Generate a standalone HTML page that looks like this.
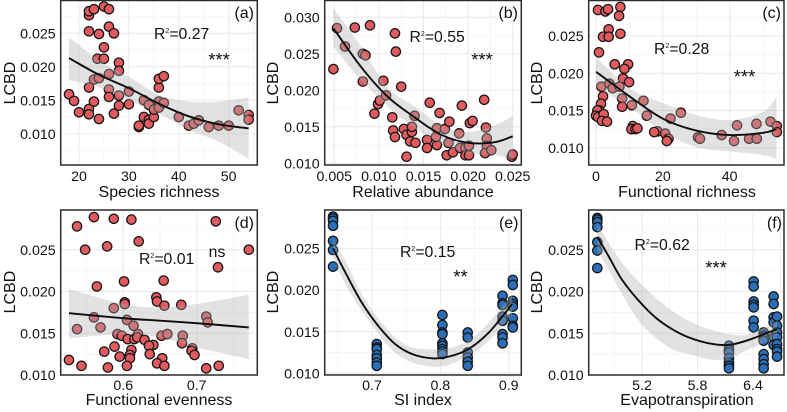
<!DOCTYPE html>
<html lang="en">
<head>
<meta charset="utf-8">
<title>LCBD scatter panels</title>
<style>
html,body{margin:0;padding:0;background:#fff;}
svg{display:block;font-family:"Liberation Sans",Arial,sans-serif;}
.tick{font-size:14.2px;fill:#111;}
.title{font-size:16px;fill:#111;}
.note{font-size:15.8px;fill:#111;}
.tag{font-size:16px;fill:#111;text-anchor:end;}
.star{font-size:18.5px;fill:#111;text-anchor:middle;}
</style>
</head>
<body>
<svg id="figure" xmlns="http://www.w3.org/2000/svg" width="787" height="412" viewBox="0 0 787 412">
  <rect x="0" y="0" width="787" height="412" fill="#fff"/>
  <g id="marks"></g>
  <g>
    <text class="title" x="159" y="197" text-anchor="middle">Species richness</text>
    <text class="title" transform="translate(15,83) rotate(-90)" text-anchor="middle">LCBD</text>
    <text class="note" x="154" y="39">R<tspan font-size="7" dy="-6">2</tspan><tspan dy="6">=0.27</tspan></text>
    <text class="star" x="219" y="66">***</text>
    <text class="tag" x="254" y="18">(a)</text>
  </g>
  <g>
    <text class="title" x="423" y="197" text-anchor="middle">Relative abundance</text>
    <text class="title" transform="translate(278,83) rotate(-90)" text-anchor="middle">LCBD</text>
    <text class="note" x="409.5" y="42">R<tspan font-size="7" dy="-6">2</tspan><tspan dy="6">=0.55</tspan></text>
    <text class="star" x="482" y="66">***</text>
    <text class="tag" x="518" y="18">(b)</text>
  </g>
  <g>
    <text class="title" x="687" y="197" text-anchor="middle">Functional richness</text>
    <text class="title" transform="translate(542,83) rotate(-90)" text-anchor="middle">LCBD</text>
    <text class="note" x="654" y="54">R<tspan font-size="7" dy="-6">2</tspan><tspan dy="6">=0.28</tspan></text>
    <text class="star" x="744.5" y="83">***</text>
    <text class="tag" x="781" y="18">(c)</text>
  </g>
  <g>
    <text class="title" x="159" y="405" text-anchor="middle">Functional evenness</text>
    <text class="title" transform="translate(15,292) rotate(-90)" text-anchor="middle">LCBD</text>
    <text class="note" x="139" y="264">R<tspan font-size="7" dy="-6">2</tspan><tspan dy="6">=0.01</tspan></text>
    <text x="217" y="257" text-anchor="middle" font-size="15.8" fill="#111">ns</text>
    <text class="tag" x="254" y="228">(d)</text>
  </g>
  <g>
    <text class="title" x="423" y="405" text-anchor="middle">SI index</text>
    <text class="title" transform="translate(278,292) rotate(-90)" text-anchor="middle">LCBD</text>
    <text class="note" x="400" y="257">R<tspan font-size="7" dy="-6">2</tspan><tspan dy="6">=0.15</tspan></text>
    <text class="star" x="460.5" y="283">**</text>
    <text class="tag" x="518.5" y="228">(e)</text>
  </g>
  <g>
    <text class="title" x="687" y="405" text-anchor="middle">Evapotranspiration</text>
    <text class="title" transform="translate(542,292) rotate(-90)" text-anchor="middle">LCBD</text>
    <text class="note" x="634.5" y="250">R<tspan font-size="7" dy="-6">2</tspan><tspan dy="6">=0.62</tspan></text>
    <text class="star" x="716" y="274">***</text>
    <text class="tag" x="782" y="228">(f)</text>
  </g>
</svg>
<script>
// ---------- Panel (a) ----------
var aX = [18,19,20,22,22,23,24,22,23,24,23.7,25,25,22,24,26,27,22,22,23,25,26,26,26,26,27,28,28,28,28,30,30,32,32,33,33,34,34,34,35,35,36,36,36,36,37,37,40,42,43,44,46,48,50,52,54,54];
var aY = [.0159,.0149,.0132,.0137,.0129,.0148,.0122,.0169,.0181,.0183,.0212,.0212,.0229,.0253,.0249,.0260,.0250,.0277,.0283,.0286,.0290,.0286,.0189,.0166,.0155,.0130,.0206,.0194,.0157,.0142,.0163,.0144,.0110,.0112,.0125,.0150,.0121,.0115,.0143,.0125,.0136,.0148,.0139,.0169,.0182,.0186,.0146,.0125,.0112,.0115,.0120,.0110,.0112,.0112,.0135,.0128,.0121];
var aFitX = [18,24,30,36,42,48,54];
var aFitY = [.0213,.0188,.0168,.0145,.0126,.0114,.0108];
var aUpper = [.0244,.0210,.0185,.0158,.0148,.0148,.0154];
var aLower = [.0180,.0169,.0150,.0130,.0106,.0088,.0063];
var aTicksX = [20,30,40,50];
var aTickLabelsX = ["20","30","40","50"];
var aTicksY = [.010,.015,.020,.025];
var aTickLabelsY = ["0.010","0.015","0.020","0.025"];

// ---------- Panel (b) ----------
var bX = [.0049,.0053,.0062,.0073,.0090,.0082,.0085,.0082,.0095,.0099,.0101,.0105,.0108,.0118,.0119,.0125,.0115,.0116,.0118,.0128,.0131,.0131,.0135,.0137,.0137,.0141,.0140,.0154,.0154,.0157,.0165,.0164,.0165,.0168,.0174,.0179,.0178,.0176,.0183,.0190,.0193,.0191,.0197,.0197,.0201,.0201,.0202,.0205,.0218,.0220,.0221,.0221,.0219,.0226,.0249,.0250];
var bY = [.0229,.0285,.0260,.0286,.0289,.0250,.0248,.0212,.0168,.0181,.0186,.0213,.0193,.0278,.0253,.0205,.0163,.0145,.0136,.0147,.0139,.0109,.0130,.0143,.0150,.0128,.0165,.0132,.0121,.0183,.0125,.0136,.0148,.0169,.0147,.0157,.0128,.0111,.0115,.0141,.0179,.0121,.0121,.0111,.0124,.0111,.0155,.0158,.0187,.0149,.0134,.0124,.0114,.0118,.0109,.0112];
var bFitX = [.0049,.008,.011,.014,.017,.020,.023,.025];
var bFitY = [.0285,.0232,.0191,.0163,.0139,.0128,.0129,.0137];
var bUpper = [.0312,.0260,.0203,.0178,.0152,.0143,.0152,.0165];
var bLower = [.0260,.0214,.0178,.0148,.0127,.0114,.0111,.0105];
var bTicksX = [.005,.010,.015,.020,.025];
var bTickLabelsX = ["0.005","0.010","0.015","0.020","0.025"];
var bTicksY = [.010,.015,.020,.025,.030];
var bTickLabelsY = ["0.010","0.015","0.020","0.025","0.030"];

// ---------- Panel (c) ----------
var cX = [.6,2.8,3.6,7.3,6.9,3.8,7.3,2.1,3.8,.9,5.6,9.6,8.5,8.1,9.9,1.6,4,5,7,2.1,1.5,7.8,7.8,10.7,14.2,15.2,1,.4,0,.6,2.3,1.8,3.3,11,10.6,11.8,12.4,18.4,17.4,20.7,21.7,21.2,22.3,25.4,30.5,31.1,37.6,41.3,42.2,45.8,48.1,48,52.2,54.1,54.1];
var cY = [.0285,.0283,.0286,.0289,.0277,.0259,.0253,.0249,.0249,.0228,.0212,.0212,.0206,.0193,.0188,.0182,.0186,.0180,.0182,.0169,.0159,.0166,.0155,.0157,.0163,.0143,.0150,.0150,.0143,.0141,.0145,.0136,.0135,.0129,.0125,.0125,.0126,.0122,.0121,.0119,.0112,.0109,.0139,.0147,.0114,.0112,.0117,.0109,.0130,.0112,.0112,.0132,.0135,.0129,.0121];
var cFitX = [0,10,20,30,40,50,54];
var cFitY = [.0202,.0169,.0139,.0123,.0117,.0120,.0125];
var cUpper = [.0222,.0180,.0160,.0144,.0137,.0148,.0168];
var cLower = [.0181,.0155,.0121,.0101,.0095,.0090,.0085];
var cTicksX = [0,20,40];
var cTickLabelsX = ["0","20","40"];
var cTicksY = [.010,.015,.020,.025];
var cTickLabelsY = ["0.010","0.015","0.020","0.025"];

// ---------- Panel (d) ----------
var dX = [.526,.543,.537,.560,.587,.611,.548,.578,.621,.726,.771,.729,.564,.601,.655,.602,.602,.645,.646,.656,.679,.587,.560,.537,.569,.605,.614,.592,.598,.606,.620,.615,.619,.629,.641,.635,.652,.660,.681,.680,.713,.715,.574,.588,.611,.636,.595,.609,.609,.653,.646,.656,.579,.605,.694,.693,.697,.713,.730];
var dY = [.0118,.0111,.0278,.0289,.0287,.0286,.0250,.0254,.0260,.0284,.0250,.0229,.0206,.0212,.0213,.0187,.0185,.0193,.0188,.0183,.0184,.0180,.0169,.0155,.0157,.0166,.0159,.0149,.0147,.0143,.0149,.0143,.0145,.0142,.0136,.0135,.0147,.0149,.0147,.0138,.0170,.0163,.0128,.0134,.0130,.0125,.0122,.0124,.0120,.0120,.0114,.0111,.0109,.0111,.0132,.0129,.0124,.0108,.0111];
var dFitX = [.526,.6,.65,.7,.771];
var dFitY = [.0174,.0168,.0165,.0162,.0157];
var dUpper = [.0203,.0185,.0181,.0185,.0196];
var dLower = [.0144,.0149,.0145,.0133,.0119];
var dTicksX = [.6,.7];
var dTickLabelsX = ["0.6","0.7"];
var dTicksY = [.010,.015,.020,.025];
var dTickLabelsY = ["0.010","0.015","0.020","0.025"];

// ---------- Panel (e) ----------
var eX = [.643,.643,.643,.643,.643,.643,.643,.707,.707,.707,.707,.707,.707,.707,.803,.803,.803,.803,.803,.803,.803,.803,.803,.84,.84,.84,.84,.84,.84,.891,.891,.891,.891,.891,.891,.891,.891,.906,.906,.906,.906,.906,.906,.906,.906];
var eY = [.0288,.0286,.0283,.0277,.0259,.0248,.0228,.0135,.0131,.0129,.0122,.0118,.0113,.0109,.0170,.0158,.0149,.0147,.0136,.0133,.0129,.0126,.0123,.0149,.0143,.0125,.0119,.0114,.0109,.0193,.0184,.0182,.0168,.0163,.0147,.0143,.0136,.0212,.0206,.0187,.0183,.0180,.0166,.0157,.0155];
var eFitX = [.643,.661,.685,.710,.734,.759,.788,.812,.841,.871,.905];
var eFitY = [.0250,.0221,.0185,.0156,.0135,.0123,.0118,.0120,.0129,.0149,.0183];
var eUpper = [.0261,.0235,.0195,.0165,.0143,.0131,.0129,.0130,.0139,.0161,.0195];
var eLower = [.0239,.0207,.0175,.0147,.0125,.0113,.0108,.0110,.0121,.0139,.0171];
var eTicksX = [.7,.8,.9];
var eTickLabelsX = ["0.7","0.8","0.9"];
var eTicksY = [.010,.015,.020,.025];
var eTickLabelsY = ["0.010","0.015","0.020","0.025"];

// ---------- Panel (f) ----------
var fX = [4.717,4.717,4.717,4.717,4.717,4.717,4.717,6.14,6.14,6.14,6.14,6.14,6.14,6.14,6.407,6.407,6.407,6.407,6.407,6.407,6.407,6.515,6.515,6.515,6.515,6.515,6.515,6.515,6.515,6.623,6.623,6.623,6.623,6.623,6.623,6.66,6.66,6.66,6.66,6.66,6.66,6.66,6.66];
var fY = [.0288,.0286,.0283,.0277,.0259,.0249,.0228,.0135,.0130,.0127,.0120,.0115,.0111,.0108,.0212,.0206,.0188,.0184,.0181,.0165,.0157,.0151,.0147,.0145,.0141,.0125,.0119,.0113,.0108,.0194,.0185,.0169,.0163,.0145,.0136,.0170,.0159,.0151,.0145,.0137,.0131,.0128,.0122];
var fFitX = [4.717,4.84,4.984,5.164,5.344,5.524,5.705,5.921,6.137,6.353,6.66];
var fFitY = [.02655,.0242,.0214,.0189,.0169,.0155,.0145,.0138,.0136,.0142,.0155];
var fUpper = [.0282,.0258,.0234,.0212,.0193,.0177,.0165,.0155,.0149,.0149,.0165];
var fLower = [.0250,.0226,.0197,.0165,.0145,.0131,.0125,.0119,.0119,.0131,.0145];
var fTicksX = [5.2,5.8,6.4];
var fTickLabelsX = ["5.2","5.8","6.4"];
var fTicksY = [.010,.015,.020,.025];
var fTickLabelsY = ["0.010","0.015","0.020","0.025"];

var RED = "#e05b60";
var BLUE = "#2a6fb8";
var NS = "http://www.w3.org/2000/svg";
var root = document.getElementById("marks");

function node(parent, tag, attrs) {
  var el = document.createElementNS(NS, tag);
  for (var k in attrs) el.setAttribute(k, attrs[k]);
  parent.appendChild(el);
  return el;
}

function linear(d0, d1, r0, r1) {
  return function (v) { return r0 + (v - d0) * (r1 - r0) / (d1 - d0); };
}

function smooth(pts) {
  var s = "";
  for (var i = 0; i < pts.length - 1; i++) {
    var p0 = pts[Math.max(i - 1, 0)], p1 = pts[i], p2 = pts[i + 1], p3 = pts[Math.min(i + 2, pts.length - 1)];
    s += " C" + (p1[0] + (p2[0] - p0[0]) / 6).toFixed(2) + " " + (p1[1] + (p2[1] - p0[1]) / 6).toFixed(2) +
         " " + (p2[0] - (p3[0] - p1[0]) / 6).toFixed(2) + " " + (p2[1] - (p3[1] - p1[1]) / 6).toFixed(2) +
         " " + p2[0].toFixed(2) + " " + p2[1].toFixed(2);
  }
  return s;
}

function gridValues(ticks, lo, hi) {
  var step = (ticks[1] - ticks[0]) / 2, out = [];
  var start = ticks[0];
  while (start - step >= Math.min(lo, hi)) start -= step;
  for (var v = start, i = 0; v <= Math.max(lo, hi) && i < 40; v = start + (++i) * step) {
    var major = ticks.some(function (t) { return Math.abs(t - v) < step / 10; });
    out.push({ v: v, major: major });
  }
  return out;
}

function drawPanel(id, box, sx, sy, xs, ys, fitX, fitY, upper, lower, ticksX, labelsX, ticksY, labelsY, color, tickBase) {
  var g = node(root, "g", {});
  
  

  var xInv = linear(sx(0), sx(1), 0, 1), yInv = linear(sy(0), sy(1), 0, 1);

  gridValues(ticksX, xInv(box.l), xInv(box.r)).forEach(function (t) {
    var ln = node(g, "line", { x1: sx(t.v), x2: sx(t.v), y1: box.t, y2: box.b, stroke: t.major ? "#e9e9e9" : "#f3f3f3", "stroke-width": t.major ? 1 : 0.7 });
    
    
  });
  gridValues(ticksY, yInv(box.b), yInv(box.t)).forEach(function (t) {
    var ln = node(g, "line", { x1: box.l, x2: box.r, y1: sy(t.v), y2: sy(t.v), stroke: t.major ? "#e9e9e9" : "#f3f3f3", "stroke-width": t.major ? 1 : 0.7 });
    
    
  });

  xs.forEach(function (x, i) {
    var c = node(g, "circle", { cx: sx(x).toFixed(2), cy: sy(ys[i]).toFixed(2), r: 4.7, fill: color, stroke: "#141414", "stroke-width": 1.25 });
    
    
  });

  var up = fitX.map(function (x, i) { return [sx(x), sy(upper[i])]; });
  var lw = fitX.map(function (x, i) { return [sx(x), sy(lower[i])]; }).reverse();
  var band = node(g, "path", {
    d: "M" + up[0][0].toFixed(2) + " " + up[0][1].toFixed(2) + smooth(up) + " L" + lw[0][0].toFixed(2) + " " + lw[0][1].toFixed(2) + smooth(lw) + " Z",
    fill: "#acacac", "fill-opacity": 0.35, stroke: "none"
  });
  
  

  var fit = fitX.map(function (x, i) { return [sx(x), sy(fitY[i])]; });
  var line = node(g, "path", {
    d: "M" + fit[0][0].toFixed(2) + " " + fit[0][1].toFixed(2) + smooth(fit),
    fill: "none", stroke: "#0d0d0d", "stroke-width": 1.9
  });
  
  

  var frame = node(g, "rect", { x: box.l, y: box.t, width: box.r - box.l, height: box.b - box.t, fill: "none", stroke: "#2b2b2b", "stroke-width": 1.5 });
  
  

  ticksX.forEach(function (t, i) {
    var tx = node(g, "text", { "class": "tick", x: sx(t).toFixed(2), y: tickBase, "text-anchor": "middle" });
    tx.textContent = labelsX[i];
    
    
  });
  ticksY.forEach(function (t, i) {
    var ty = node(g, "text", { "class": "tick", x: box.l - 5, y: (sy(t) + 5.2).toFixed(2), "text-anchor": "end" });
    ty.textContent = labelsY[i];
    
    
  });
}

drawPanel("a", { l: 60.7, r: 257.3, t: 0.5, b: 165 },
  linear(20, 50, 79, 228.7), linear(.010, .025, 133.7, 33.3),
  aX, aY, aFitX, aFitY, aUpper, aLower, aTicksX, aTickLabelsX, aTicksY, aTickLabelsY, RED, 181);

drawPanel("b", { l: 324.7, r: 521.3, t: 0.5, b: 165 },
  linear(.005, .025, 334.3, 512.7), linear(.010, .030, 163.3, 17.3),
  bX, bY, bFitX, bFitY, bUpper, bLower, bTicksX, bTickLabelsX, bTicksY, bTickLabelsY, RED, 181);

drawPanel("c", { l: 588.7, r: 784, t: 0.5, b: 165 },
  linear(0, 40, 596, 729.7), linear(.010, .025, 147.7, 36),
  cX, cY, cFitX, cFitY, cUpper, cLower, cTicksX, cTickLabelsX, cTicksY, cTickLabelsY, RED, 181);

drawPanel("d", { l: 60.7, r: 257.3, t: 210, b: 375 },
  linear(.6, .7, 123.3, 196.7), linear(.010, .025, 375, 249.7),
  dX, dY, dFitX, dFitY, dUpper, dLower, dTicksX, dTickLabelsX, dTicksY, dTickLabelsY, RED, 390);

drawPanel("e", { l: 324.7, r: 521.3, t: 210, b: 375 },
  linear(.7, .9, 372, 508.7), linear(.010, .025, 373.3, 248.3),
  eX, eY, eFitX, eFitY, eUpper, eLower, eTicksX, eTickLabelsX, eTicksY, eTickLabelsY, BLUE, 390);

drawPanel("f", { l: 588.7, r: 784, t: 210, b: 375 },
  linear(5.2, 6.4, 642, 753), linear(.010, .025, 375, 249.7),
  fX, fY, fFitX, fFitY, fUpper, fLower, fTicksX, fTickLabelsX, fTicksY, fTickLabelsY, BLUE, 390);
</script>
</body>
</html>
